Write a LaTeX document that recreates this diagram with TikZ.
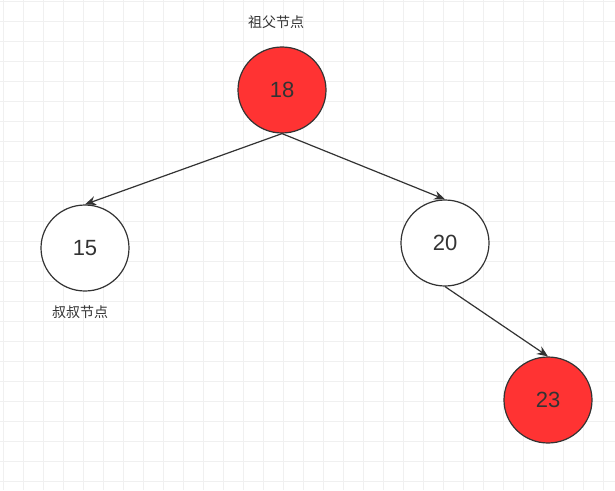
\documentclass[tikz,border=0pt]{standalone}
\usepackage{fontspec}
\setmainfont{Liberation Sans}
\newfontfamily\cjk{Noto Sans CJK SC}
\usetikzlibrary{arrows.meta,shapes.geometric}
\definecolor{rbred}{HTML}{FF3333}
\definecolor{edgec}{HTML}{333333}
\begin{document}
\begin{tikzpicture}[x=1pt,y=-1pt,
  tnode/.style={ellipse,draw=edgec,line width=1.2pt,minimum width=88pt,minimum height=86pt,inner sep=0pt,font=\fontsize{22}{24}\selectfont,text=edgec},
  rednode/.style={tnode,fill=rbred},
  whitenode/.style={tnode,fill=white},
  lbl/.style={font=\cjk\fontsize{14}{16}\selectfont,text=edgec},
  arr/.style={draw=edgec,line width=1.2pt,-{Stealth[length=11pt,width=9pt]}}]
\useasboundingbox (0,0) rectangle (615,490);
\fill[white] (0,0) rectangle (615,490);
\foreach \x in {3,23,...,615} \draw[gray!12,line width=0.6pt] (\x,0) -- (\x,490);
\foreach \y in {1,21,...,490} \draw[gray!12,line width=0.6pt] (0,\y) -- (615,\y);
\node[rednode] (n18) at (282,90) {18};
\node[whitenode] (n15) at (85,248) {15};
\node[whitenode] (n20) at (445,243) {20};
\node[rednode] (n23) at (548,400) {23};
\node[lbl] (g) at (276,22) {祖父节点};
\node[lbl] (u) at (80,312) {叔叔节点};
\draw[arr] (n18.south) -- (n15.north);
\draw[arr] (n18.south) -- (n20.north);
\draw[arr] (n20.south) -- (n23.north);
\end{tikzpicture}
\end{document}
